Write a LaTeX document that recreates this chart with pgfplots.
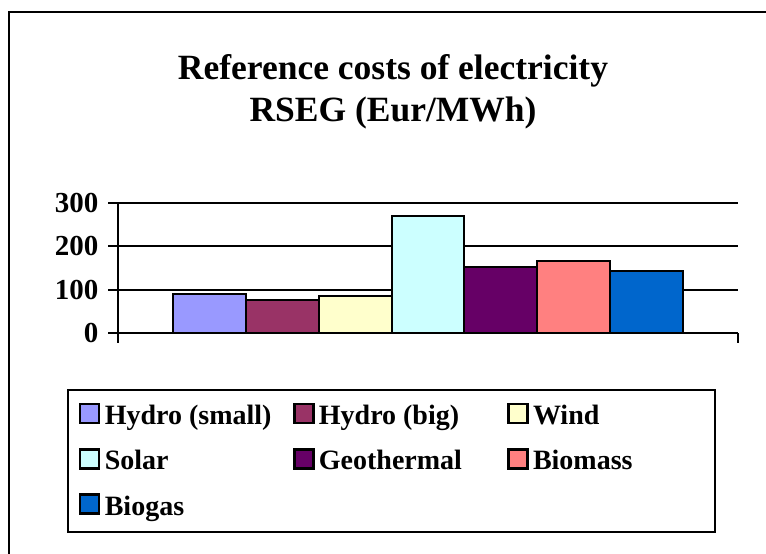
\documentclass[border=0pt]{standalone}
\usepackage{fontspec}
\setmainfont{Liberation Serif}
\usepackage{pgfplots}
\pgfplotsset{compat=1.18}
\definecolor{cA}{HTML}{9999FF}
\definecolor{cB}{HTML}{993366}
\definecolor{cC}{HTML}{FFFFCC}
\definecolor{cD}{HTML}{CCFFFF}
\definecolor{cE}{HTML}{660066}
\definecolor{cF}{HTML}{FF8080}
\definecolor{cG}{HTML}{0066CC}
\newcommand{\lt}[1]{\makebox[188.5pt][l]{#1}}
\begin{document}
\begin{tikzpicture}[x=1pt,y=1pt]
\useasboundingbox (0,0) rectangle (766,554);
\begin{scope}
\clip (0,0) rectangle (766,554);
\draw[line width=2pt] (9,-5) -- (9,542) -- (780,542);
\end{scope}
\node[font=\bfseries\fontsize{35.5}{42}\selectfont, anchor=base] at (393,474) {Reference costs of electricity};
\node[font=\bfseries\fontsize{35.5}{42}\selectfont, anchor=base] at (393,432) {RSEG (Eur/MWh)};
\draw[line width=2.2pt] (68,22) rectangle (715,164);
\begin{axis}[
  at={(118pt,221pt)}, anchor=south west,
  width=620pt, height=130pt, scale only axis,
  xmin=0, xmax=1, ymin=0, ymax=300,
  axis lines*=left,
  axis line style={line width=2pt, black},
  ytick={0,100,200,300},
  xtick={0,1}, xticklabels={},
  ymajorgrids, grid style={black, line width=2pt},
  tick align=outside, major tick length=10pt,
  tick style={black, line width=2pt},
  /pgf/number format/assume math mode=true,
  yticklabel style={font=\bfseries\fontsize{29}{29}\selectfont, xshift=-6pt},
  ybar=0pt, bar width=72.86pt,
  clip=false,
  legend columns=3,
  legend cell align=left,
  legend style={at={(-0.0629,-0.539)}, anchor=north west, draw=none, fill=none,
    inner sep=0pt, font=\bfseries\fontsize{28}{28}\selectfont,
    nodes={inner sep=0pt, text height=20pt, text depth=7pt},
    row sep=16.5pt, column sep=0pt},
  legend image code/.code={\draw[#1,line width=2.2pt,draw=black] (0.5pt,-5pt) rectangle (19.5pt,14pt); \path[draw=none,fill=none] (0pt,0pt) -- (25pt,0pt);},
  every axis plot/.append style={draw=black, line width=2pt},
]
\addplot[fill=cA] coordinates {(0.5,90)};
\addplot[fill=cB] coordinates {(0.5,77)};
\addplot[fill=cC] coordinates {(0.5,85)};
\addplot[fill=cD] coordinates {(0.5,271)};
\addplot[fill=cE] coordinates {(0.5,152)};
\addplot[fill=cF] coordinates {(0.5,167)};
\addplot[fill=cG] coordinates {(0.5,142)};
\legend{\lt{Hydro (small)},\lt{Hydro (big)},\lt{Wind},\lt{Solar},\lt{Geothermal},\lt{Biomass},\lt{Biogas}}
\end{axis}
\end{tikzpicture}
\end{document}
